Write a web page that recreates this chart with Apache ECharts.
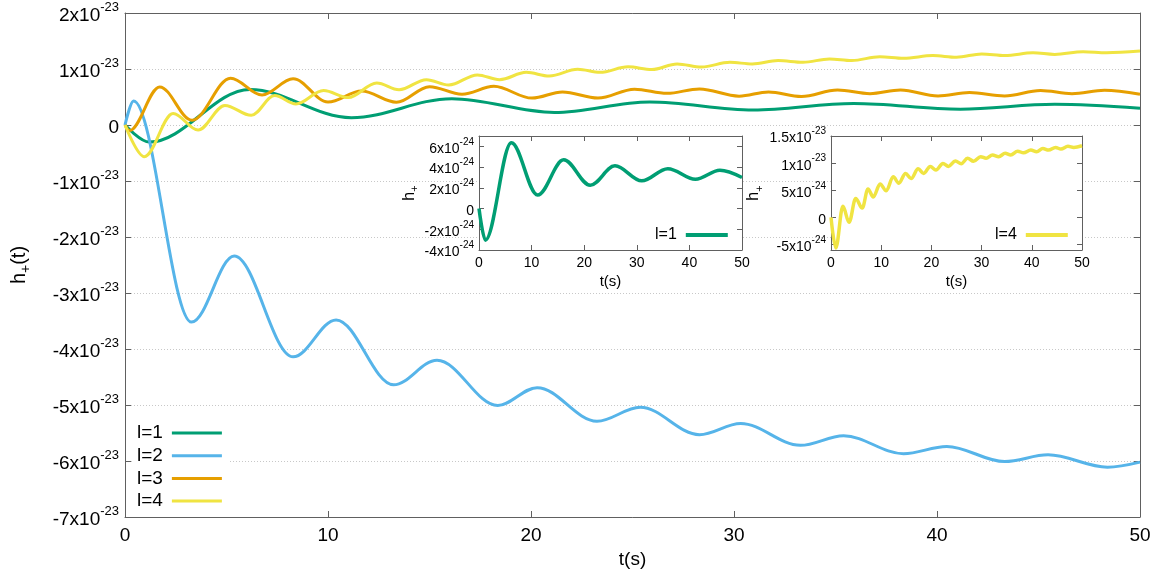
<!DOCTYPE html>
<html>
<head>
<meta charset="utf-8">
<script src="https://cdn.jsdelivr.net/npm/echarts@6/dist/echarts.min.js"></script>
<style>
  html, body { margin: 0; padding: 0; background: #fff; }
  #chart { width: 1164px; height: 571px; }
</style>
</head>
<body>
<div id="chart"></div>
<script>
// h+(t) for each mode l, as [t (s), h+ in units of 1e-23], taken at the turning points of each curve
const l1 = [[0,0],[1.2,-0.305],[6.15,0.635],[11.15,0.13],[16.1,0.47],[21.15,0.225],[25.85,0.412],
  [30.95,0.267],[35.9,0.385],[41.15,0.283],[45.8,0.37],[50,0.30]];
const l2 = [[0,0],[0.42,0.43],[3.28,-3.52],[5.38,-2.34],[8.28,-4.14],[10.4,-3.48],[13.23,-4.64],
  [15.37,-4.2],[18.36,-5.01],[20.3,-4.69],[23.25,-5.29],[25.38,-5.04],[28.3,-5.53],[30.33,-5.33],
  [33.27,-5.72],[35.4,-5.55],[38.35,-5.87],[40.48,-5.74],[43.33,-6.01],[45.47,-5.89],[48.4,-6.11],[50,-6.02]];
const l3 = [[0,0],[0.22,-0.1],[1.71,0.68],[3.3,0.085],[5.2,0.835],[6.75,0.535],[8.28,0.825],[10.0,0.41],
  [11.65,0.605],[13.37,0.405],[15.0,0.685],[16.6,0.55],[18.17,0.69],[20.05,0.48],[21.55,0.59],[23.3,0.48],
  [25.1,0.64],[26.7,0.565],[28.3,0.645],[30.25,0.515],[31.7,0.59],[33.32,0.51],[35.1,0.625],[36.7,0.56],
  [38.2,0.625],[40.05,0.52],[41.6,0.58],[43.33,0.52],[45.1,0.615],[46.65,0.56],[48.25,0.62],[50,0.55]];
const l4 = [[0,0],[0.95,-0.565],[2.37,0.205],[3.6,-0.09],[4.92,0.35],[6.22,0.172],[7.37,0.525],[8.42,0.375],
  [9.78,0.615],[11.0,0.49],[12.4,0.75],[13.5,0.63],[14.85,0.81],[15.95,0.715],[17.36,0.895],[18.45,0.81],
  [19.77,0.94],[20.9,0.875],[22.3,0.995],[23.4,0.94],[24.78,1.04],[25.95,0.99],[27.2,1.09],[28.4,1.035],
  [29.8,1.12],[30.9,1.09],[32.17,1.15],[33.4,1.12],[34.7,1.18],[35.8,1.15],[37.18,1.22],[38.35,1.19],
  [39.8,1.24],[40.96,1.21],[42.2,1.27],[43.35,1.24],[44.73,1.29],[45.8,1.26],[47.2,1.31],[48.35,1.29],[50,1.32]];

const seriesNames = ['l=1', 'l=2', 'l=3', 'l=4'];
const seriesColors = ['#009e73', '#56b4e9', '#e69f00', '#f0e442'];

// tick values: main axis in units of 1e-23, insets in units of 1e-24
const mainYTicks = [-7, -6, -5, -4, -3, -2, -1, 0, 1, 2];
const inset1YTicks = [-4, -2, 0, 2, 4, 6];
const inset2YTicks = [-5, 0, 5, 10, 15];
const inset2YMantissa = ['-5', '0', '5', '1', '1.5'];
const inset2YExponent = ['-24', '', '-24', '-23', '-23'];
const tTicks = [0, 10, 20, 30, 40, 50];

const FONT = '"Liberation Sans", Arial, Helvetica, sans-serif';
const AXIS_COLOR = '#606060';

const toE24 = pts => pts.map(p => [p[0], p[1] * 10]);

function mainYLabel(v) {
  return v === 0 ? '{m|0}' : '{m|' + v + 'x10}{e|-23}';
}
function inset1YLabel(v) {
  return v === 0 ? '{m|0}' : '{m|' + v + 'x10}{e|-24}';
}
function inset2YLabel(v) {
  const i = inset2YTicks.indexOf(v);
  if (i < 0) return '';
  if (inset2YExponent[i] === '') return '{m|' + inset2YMantissa[i] + '}';
  return '{m|' + inset2YMantissa[i] + 'x10}{e|' + inset2YExponent[i] + '}';
}

const mainRich = {
  m: { fontSize: 19, lineHeight: 25, verticalAlign: 'bottom', fontFamily: FONT, color: '#000' },
  e: { fontSize: 13, lineHeight: 13, verticalAlign: 'top', fontFamily: FONT, color: '#000' }
};
const insetRich = {
  m: { fontSize: 14, lineHeight: 19, verticalAlign: 'bottom', fontFamily: FONT, color: '#000' },
  e: { fontSize: 10, lineHeight: 8, verticalAlign: 'top', fontFamily: FONT, color: '#000' }
};

function frameAxis(extra) {
  return Object.assign({
    type: 'value',
    axisLine: { show: true, onZero: false, lineStyle: { color: AXIS_COLOR, width: 1 } },
    axisTick: { show: true, inside: true, length: 6, lineStyle: { color: AXIS_COLOR } },
    axisLabel: { show: false },
    splitLine: { show: false }
  }, extra);
}

const grids = [
  { left: 125, top: 13, right: 24, bottom: 54, outerBoundsMode: 'none' },
  { left: 479, top: 136, width: 263, height: 114, show: true, backgroundColor: '#fff',
    borderWidth: 0, z: 1, outerBoundsMode: 'none' },
  { left: 831, top: 136, width: 251, height: 114, show: true, backgroundColor: '#fff',
    borderWidth: 0, z: 1, outerBoundsMode: 'none' }
];

const tLabel = size => ({ show: true, fontSize: size, fontFamily: FONT, color: '#000' });
const insetTick = values => ({ show: true, inside: true, length: 5, customValues: values,
  lineStyle: { color: AXIS_COLOR } });
const insetYLabel = (values, fmt) => ({ show: true, margin: 5, customValues: values, formatter: fmt,
  rich: insetRich, showMinLabel: true, showMaxLabel: true, hideOverlap: false });
const insetName = {
  rich: {
    a: { fontSize: 16, lineHeight: 19, verticalAlign: 'top', fontFamily: FONT, color: '#000' },
    s: { fontSize: 11, lineHeight: 11, verticalAlign: 'bottom', fontFamily: FONT, color: '#000' }
  }
};

const xAxes = [
  frameAxis({ gridIndex: 0, position: 'bottom', min: 0, max: 50, interval: 10,
    axisLabel: Object.assign(tLabel(19), { margin: 9 }),
    name: 't(s)', nameLocation: 'middle', nameGap: 23,
    nameTextStyle: { fontSize: 19, fontFamily: FONT, color: '#000' } }),
  frameAxis({ gridIndex: 0, position: 'top', min: 0, max: 50, interval: 10 }),
  frameAxis({ gridIndex: 1, position: 'bottom', min: 0, max: 50, interval: 10, z: 3,
    axisTick: insetTick(tTicks),
    axisLabel: Object.assign(tLabel(14), { margin: 6 }),
    name: 't(s)', nameLocation: 'middle', nameGap: 24,
    nameTextStyle: { fontSize: 15, fontFamily: FONT, color: '#000' } }),
  frameAxis({ gridIndex: 1, position: 'top', min: 0, max: 50, interval: 10, z: 3,
    axisTick: insetTick(tTicks) }),
  frameAxis({ gridIndex: 2, position: 'bottom', min: 0, max: 50, interval: 10, z: 3,
    axisTick: insetTick(tTicks),
    axisLabel: Object.assign(tLabel(14), { margin: 6 }),
    name: 't(s)', nameLocation: 'middle', nameGap: 24,
    nameTextStyle: { fontSize: 15, fontFamily: FONT, color: '#000' } }),
  frameAxis({ gridIndex: 2, position: 'top', min: 0, max: 50, interval: 10, z: 3,
    axisTick: insetTick(tTicks) })
];

const yAxes = [
  frameAxis({ gridIndex: 0, position: 'left', min: mainYTicks[0], max: mainYTicks[mainYTicks.length - 1], interval: 1,
    axisLabel: { show: true, margin: 6, formatter: mainYLabel, rich: mainRich },
    splitLine: { show: true, lineStyle: { color: '#c8c8c8', width: 1, type: [1, 2] } },
    name: '{a|h}{s|+}{a|(t)}', nameLocation: 'middle', nameGap: 92, nameRotate: 90,
    nameTextStyle: { rich: {
      a: { fontSize: 20, lineHeight: 24, verticalAlign: 'top', fontFamily: FONT, color: '#000' },
      s: { fontSize: 14, lineHeight: 14, verticalAlign: 'bottom', fontFamily: FONT, color: '#000' } } } }),
  frameAxis({ gridIndex: 0, position: 'right', min: mainYTicks[0], max: mainYTicks[mainYTicks.length - 1], interval: 1 }),
  frameAxis({ gridIndex: 1, position: 'left', min: -4, max: 7, z: 3,
    axisTick: insetTick(inset1YTicks),
    axisLabel: insetYLabel(inset1YTicks, inset1YLabel),
    name: '{a|h}{s|+}', nameLocation: 'middle', nameGap: 56, nameRotate: 90,
    nameTextStyle: insetName }),
  frameAxis({ gridIndex: 1, position: 'right', min: -4, max: 7, z: 3,
    axisTick: insetTick(inset1YTicks) }),
  frameAxis({ gridIndex: 2, position: 'left', min: -6, max: 15, z: 3,
    axisTick: insetTick(inset2YTicks),
    axisLabel: insetYLabel(inset2YTicks, inset2YLabel),
    name: '{a|h}{s|+}', nameLocation: 'middle', nameGap: 66, nameRotate: 90,
    nameTextStyle: insetName }),
  frameAxis({ gridIndex: 2, position: 'right', min: -6, max: 15, z: 3,
    axisTick: insetTick(inset2YTicks) })
];

function curve(name, color, data, xi, yi, width, z) {
  return {
    type: 'line', name: name, data: data, xAxisIndex: xi, yAxisIndex: yi,
    smooth: 0.35, smoothMonotone: 'x', showSymbol: false, symbol: 'none',
    color: color, lineStyle: { color: color, width: width }, z: z, animation: false
  };
}

const mainData = [l1, l2, l3, l4];
const series = mainData.map((d, i) => curve(seriesNames[i], seriesColors[i], d, 0, 0, 3, 2));
series.push(curve(seriesNames[0], seriesColors[0], toE24(l1), 2, 2, 3.5, 4));
series.push(curve(seriesNames[3], seriesColors[3], toE24(l4), 4, 4, 3.5, 4));

const legendText = size => ({ fontSize: size, fontFamily: FONT, color: '#000', padding: [0, 4, 0, 0] });

const option = {
  animation: false,
  backgroundColor: '#fff',
  grid: grids,
  xAxis: xAxes,
  yAxis: yAxes,
  legend: [
    { data: seriesNames, orient: 'vertical', left: 133, top: 419, align: 'right', icon: 'rect',
      itemWidth: 50, itemHeight: 3, itemGap: 2.7, padding: [4, 8, 4, 4], backgroundColor: '#fff',
      textStyle: Object.assign(legendText(19), { lineHeight: 20 }), selectedMode: false },
    { data: [seriesNames[0]], orient: 'vertical', left: 655, top: 227, align: 'right', icon: 'rect',
      itemWidth: 42, itemHeight: 4, padding: 0, textStyle: legendText(16), selectedMode: false, z: 5 },
    { data: [seriesNames[3]], orient: 'vertical', left: 995, top: 227, align: 'right', icon: 'rect',
      itemWidth: 42, itemHeight: 4, padding: 0, textStyle: legendText(16), selectedMode: false, z: 5 }
  ],
  series: series
};

const chart = echarts.init(document.getElementById('chart'), null, { renderer: 'canvas' });
chart.setOption(option);
</script>
</body>
</html>
